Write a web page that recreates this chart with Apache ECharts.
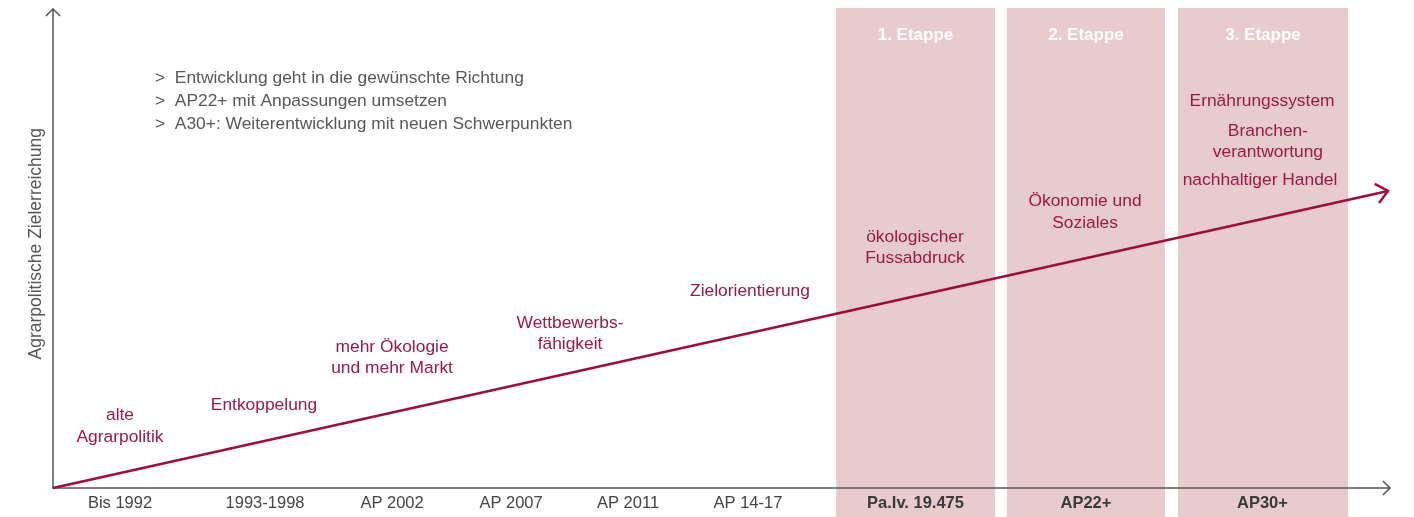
<!DOCTYPE html>
<html><head><meta charset="utf-8">
<script src="https://cdn.jsdelivr.net/npm/echarts@6/dist/echarts.min.js"></script>
<style>html,body{margin:0;padding:0;background:#fff}#c{width:1414px;height:517px}</style>
</head><body><div id="c"></div>
<script>
// ---- data ----
const categories = ['Bis 1992','1993-1998','AP 2002','AP 2007','AP 2011','AP 14-17','Pa.Iv. 19.475','AP22+','AP30+'];
const categoryX = [5.01, 15.86, 25.36, 34.26, 43.01, 51.98, 64.51, 77.26, 90.46];
const boldFrom = 6;
const stageNames = ['1. Etappe','2. Etappe','3. Etappe'];
const stageStart = [58.56, 71.35, 84.14];
const stageEnd = [70.46, 83.17, 96.86];
const stageTop = 100.2, stageBottom = -6.05, stageTitleY = 94.57;
const trendX = [0, 99.85];
const trendY = [0, 62.0];
const noteLines = ['>  Entwicklung geht in die gewünschte Richtung','>  AP22+ mit Anpassungen umsetzen','>  A30+: Weiterentwicklung mit neuen Schwerpunkten'];
const noteAt = [7.63, 80.79];
const annTexts = ['alte\nAgrarpolitik','Entkoppelung','mehr Ökologie\nund mehr Markt','Wettbewerbs-\nfähigkeit','Zielorientierung','ökologischer\nFussabdruck','Ökonomie und\nSoziales','Ernährungssystem','Branchen-\nverantwortung','nachhaltiger Handel'];
const annX = [5.01, 15.78, 25.36, 38.67, 52.13, 64.47, 77.19, 90.43, 90.87, 90.28];
const annY = [12.94, 17.33, 27.24, 32.25, 41.13, 50.21, 57.62, 80.79, 72.34, 64.3];
const yAxisTitle = 'Agrarpolitische Zielerreichung';
const yAxisTitleAt = 51.0;

// ---- style ----
const FONT = '"Liberation Sans", Arial, Helvetica, sans-serif';
const CRIMSON = '#9c1a44';
const LINE = '#9b0f3d';
const PINK = '#e8cbcd';
const AXIS = '#555555';

function chevron(tip, dx, dy, L, phi) {
  const n = Math.hypot(dx, dy); dx /= n; dy /= n;
  const r = (a) => [dx*Math.cos(a) - dy*Math.sin(a), dx*Math.sin(a) + dy*Math.cos(a)];
  const a1 = r(phi), a2 = r(-phi);
  return [[tip[0]-L*a1[0], tip[1]-L*a1[1]], tip, [tip[0]-L*a2[0], tip[1]-L*a2[1]]];
}

const chart = echarts.init(document.getElementById('c'), null, {renderer:'canvas'});
const option = {
  animation: false,
  grid: {left: 53, right: 24, top: 9, bottom: 29},
  xAxis: {type:'value', min:0, max:100, z:3,
    axisLine:{show:true, onZero:false, lineStyle:{color:AXIS, width:1.5}},
    axisTick:{show:false}, axisLabel:{show:false}, splitLine:{show:false}},
  yAxis: {type:'value', min:0, max:100, z:3,
    axisLine:{show:true, onZero:false, lineStyle:{color:AXIS, width:1.5}},
    axisTick:{show:false}, axisLabel:{show:false}, splitLine:{show:false}},
  series: [
    { // stage bands
      type:'custom', z:1, clip:false, silent:true,
      data: stageNames.map((n,i)=>[stageStart[i], stageEnd[i]]),
      renderItem: (params, api) => {
        const i = params.dataIndex;
        const p0 = api.coord([stageStart[i], stageTop]);
        const p1 = api.coord([stageEnd[i], stageBottom]);
        const c = api.coord([(stageStart[i]+stageEnd[i])/2, stageTitleY]);
        return {type:'group', children:[
          {type:'rect', shape:{x:p0[0], y:p0[1], width:p1[0]-p0[0], height:p1[1]-p0[1]}, style:{fill:PINK}},
          {type:'text', style:{x:c[0], y:c[1], text:stageNames[i], fill:'#ffffff', font:'bold 17px '+FONT, align:'center', verticalAlign:'middle'}}
        ]};
      }
    },
    { // axis arrow heads + y title
      type:'custom', z:3, clip:false, silent:true, data:[[0]],
      renderItem: (params, api) => {
        const xt = api.coord([100, 0]); const yt = api.coord([0, 100]);
        const tp = api.coord([0, yAxisTitleAt]);
        return {type:'group', children:[
          {type:'polyline', shape:{points: chevron(xt, 1, 0, 10, Math.PI/4)}, style:{stroke:AXIS, lineWidth:1.5, fill:null}},
          {type:'polyline', shape:{points: chevron(yt, 0, -1, 10, Math.PI/4)}, style:{stroke:AXIS, lineWidth:1.5, fill:null}},
          {type:'text', x:tp[0]-17, y:tp[1], rotation:Math.PI/2, style:{x:0, y:0, text:yAxisTitle, fill:AXIS, font:'17.5px '+FONT, align:'center', verticalAlign:'middle'}}
        ]};
      }
    },
    { // trend line
      type:'custom', z:4, clip:false, silent:true, data:[[trendX[0], trendY[0], trendX[1], trendY[1]]],
      renderItem: (params, api) => {
        const a = api.coord([trendX[0], trendY[0]]);
        const b = api.coord([trendX[1], trendY[1]]);
        return {type:'group', children:[
          {type:'polyline', shape:{points:[a, b]}, style:{stroke:LINE, lineWidth:2.5, fill:null}},
          {type:'polyline', shape:{points: chevron(b, b[0]-a[0], b[1]-a[1], 15, 0.71)}, style:{stroke:LINE, lineWidth:2.5, fill:null, lineJoin:'miter'}}
        ]};
      }
    },
    { // annotations
      type:'custom', z:5, clip:false, silent:true,
      data: annTexts.map((t,i)=>[annX[i], annY[i]]),
      renderItem: (params, api) => {
        const i = params.dataIndex;
        const p = api.coord([annX[i], annY[i]]);
        return {type:'text', style:{x:p[0], y:p[1], text:annTexts[i], fill:CRIMSON, font:'17.4px '+FONT, align:'center', verticalAlign:'middle', lineHeight:21.5}};
      }
    },
    { // notes
      type:'custom', z:5, clip:false, silent:true, data:[noteAt],
      renderItem: (params, api) => {
        const p = api.coord(noteAt);
        return {type:'text', style:{x:p[0], y:p[1], text:noteLines.join('\n'), fill:'#585858', font:'17.4px '+FONT, align:'left', verticalAlign:'middle', lineHeight:23}};
      }
    },
    { // category labels
      type:'custom', z:5, clip:false, silent:true,
      data: categories.map((c,i)=>[categoryX[i], 0]),
      renderItem: (params, api) => {
        const i = params.dataIndex;
        const p = api.coord([categoryX[i], 0]);
        return {type:'text', style:{x:p[0], y:p[1]+15, text:categories[i], fill: i>=boldFrom ? '#3a3a3a' : '#444444', font:(i>=boldFrom?'bold ':'')+'16.5px '+FONT, align:'center', verticalAlign:'middle'}};
      }
    }
  ]
};
chart.setOption(option);
</script>
</body></html>
